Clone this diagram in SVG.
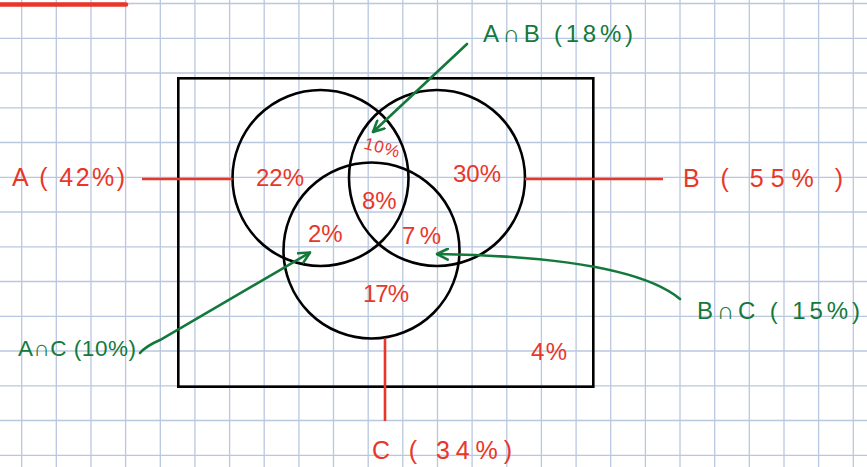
<svg xmlns="http://www.w3.org/2000/svg" width="867" height="467" viewBox="0 0 867 467">
<defs>
<style>
.grid line{stroke:#b9c7df;stroke-width:1.3}
.shape{fill:none;stroke:#000;stroke-width:2.6}
.red{fill:#e8372a;font-family:"Liberation Sans",Arial,sans-serif;font-size:25px}
.num{font-size:24px}
.grn{fill:#13793b;font-family:"Liberation Sans",Arial,sans-serif;font-size:24px}
.rline{stroke:#e8372a;stroke-width:2.6;fill:none}
.gline{stroke:#13793b;stroke-width:2.6;fill:none;stroke-linecap:round}
</style>
<marker id="ah" viewBox="0 0 12 12" refX="11" refY="6" markerWidth="5" markerHeight="5" orient="auto" markerUnits="strokeWidth">
<path d="M1,1 L11,6 L1,11" fill="none" stroke="#13793b" stroke-width="2.4" stroke-linecap="round" stroke-linejoin="round"/>
</marker>
</defs>
<rect width="867" height="467" fill="#fff"/>
<g class="grid">
<line x1="21.7" y1="0" x2="21.7" y2="467"/><line x1="56.3" y1="0" x2="56.3" y2="467"/><line x1="91" y1="0" x2="91" y2="467"/><line x1="125.6" y1="0" x2="125.6" y2="467"/><line x1="160.3" y1="0" x2="160.3" y2="467"/><line x1="194.9" y1="0" x2="194.9" y2="467"/><line x1="229.6" y1="0" x2="229.6" y2="467"/><line x1="264.2" y1="0" x2="264.2" y2="467"/><line x1="298.9" y1="0" x2="298.9" y2="467"/><line x1="333.5" y1="0" x2="333.5" y2="467"/><line x1="368.2" y1="0" x2="368.2" y2="467"/><line x1="402.8" y1="0" x2="402.8" y2="467"/><line x1="437.5" y1="0" x2="437.5" y2="467"/><line x1="472.1" y1="0" x2="472.1" y2="467"/><line x1="506.8" y1="0" x2="506.8" y2="467"/><line x1="541.4" y1="0" x2="541.4" y2="467"/><line x1="576.1" y1="0" x2="576.1" y2="467"/><line x1="610.7" y1="0" x2="610.7" y2="467"/><line x1="645.4" y1="0" x2="645.4" y2="467"/><line x1="680" y1="0" x2="680" y2="467"/><line x1="714.7" y1="0" x2="714.7" y2="467"/><line x1="749.3" y1="0" x2="749.3" y2="467"/><line x1="784" y1="0" x2="784" y2="467"/><line x1="818.6" y1="0" x2="818.6" y2="467"/><line x1="853.3" y1="0" x2="853.3" y2="467"/>
<line x1="0" y1="3.5" x2="867" y2="3.5"/><line x1="0" y1="38.3" x2="867" y2="38.3"/><line x1="0" y1="73" x2="867" y2="73"/><line x1="0" y1="107.8" x2="867" y2="107.8"/><line x1="0" y1="142.5" x2="867" y2="142.5"/><line x1="0" y1="177.3" x2="867" y2="177.3"/><line x1="0" y1="212" x2="867" y2="212"/><line x1="0" y1="246.8" x2="867" y2="246.8"/><line x1="0" y1="281.5" x2="867" y2="281.5"/><line x1="0" y1="316.3" x2="867" y2="316.3"/><line x1="0" y1="351" x2="867" y2="351"/><line x1="0" y1="385.8" x2="867" y2="385.8"/><line x1="0" y1="420.5" x2="867" y2="420.5"/><line x1="0" y1="455.3" x2="867" y2="455.3"/>
</g>
<line x1="0" y1="4.5" x2="126" y2="4.5" stroke="#e8372a" stroke-width="4.5" stroke-linecap="round"/>
<g id="universe"><rect class="shape" x="178.3" y="78.3" width="415" height="308.4"/></g>
<g id="circle-a"><circle class="shape" cx="320.5" cy="178" r="88"/></g>
<g id="circle-b"><circle class="shape" cx="437" cy="178" r="88"/></g>
<g id="circle-c"><circle class="shape" cx="371.5" cy="250.5" r="88"/></g>
<g id="connectors">
<line class="rline" x1="142" y1="179" x2="232.5" y2="179"/>
<line class="rline" x1="525" y1="179" x2="663" y2="179"/>
<line class="rline" x1="385" y1="338.5" x2="385" y2="421"/>
<path class="gline" d="M467,44 L373,132" marker-end="url(#ah)"/>
<path class="gline" d="M140,353 Q146,346 160,340 L310,252.5" marker-end="url(#ah)"/>
<path class="gline" d="M680,299 C645,270 560,256 437,254" marker-end="url(#ah)"/>
</g>
<g id="label-a"><text class="red" x="12" y="186" textLength="113" lengthAdjust="spacing">A ( 42%)</text></g>
<g id="label-b"><text class="red" x="683" y="187" textLength="160" lengthAdjust="spacing">B ( 55% )</text></g>
<g id="label-c"><text class="red" x="372" y="459" textLength="140" lengthAdjust="spacing">C  ( 34%)</text></g>
<g id="region-a"><text class="red num" x="256" y="186" textLength="48" lengthAdjust="spacing">22%</text></g>
<g id="region-ab"><text class="red" x="364" y="153" textLength="36" lengthAdjust="spacing" transform="rotate(15 381 147)" style="font-size:17px">10%</text></g>
<g id="region-b"><text class="red num" x="453" y="182" textLength="48" lengthAdjust="spacing">30%</text></g>
<g id="region-abc"><text class="red num" x="362" y="209">8%</text></g>
<g id="region-ac"><text class="red num" x="308" y="242">2%</text></g>
<g id="region-bc"><text class="red num" x="402" y="244" textLength="39" lengthAdjust="spacing">7%</text></g>
<g id="region-c"><text class="red num" x="363" y="302" textLength="46" lengthAdjust="spacing">17%</text></g>
<g id="region-none"><text class="red num" x="531" y="360" textLength="36" lengthAdjust="spacing">4%</text></g>
<g id="note-ab"><text class="grn" x="483" y="42" textLength="150" lengthAdjust="spacing">A∩B (18%)</text></g>
<g id="note-ac"><text class="grn" x="18" y="356" textLength="118" lengthAdjust="spacing" style="font-size:22.5px">A∩C (10%)</text></g>
<g id="note-bc"><text class="grn" x="697" y="319" textLength="163" lengthAdjust="spacing">B∩C ( 15%)</text></g>
</svg>
